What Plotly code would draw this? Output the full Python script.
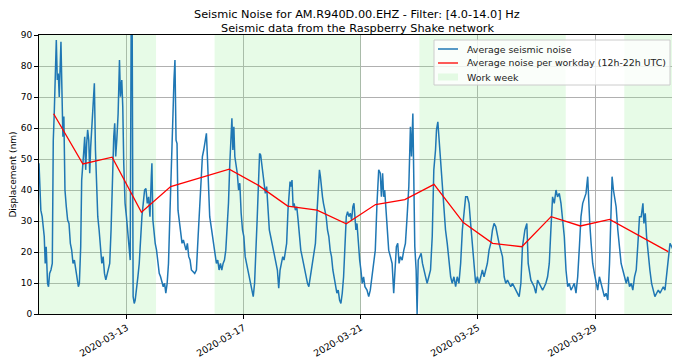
import pandas as pd
import plotly.graph_objects as go

START = pd.Timestamp("2020-03-10 00:00")

# Blue series: hours since START and averaged seismic noise (nm)
hours = [0, 0.7, 1.5, 2.6, 3.5, 4.3, 5.1, 5.9, 7.0, 7.8, 8.7, 9.8, 10.9, 11.7, 12.5, 13.3, 14.2, 15.0, 15.8, 16.6,
         17.4, 18.0, 18.8, 19.6, 20.4, 21.3, 22.4, 23.5, 24.6, 25.7, 26.8, 27.9, 29.0, 30.1, 31.2, 32.3, 33.1, 34.2,
         35.0, 35.8, 36.6, 37.5, 38.3, 39.1, 39.9, 40.8, 41.6, 42.4, 43.2, 44.3, 45.4, 46.3, 47.1, 48.2, 49.3, 50.4,
         51.5, 52.6, 53.7, 54.8, 55.9, 56.9, 58.0, 59.1, 60.2, 61.3, 62.1, 62.9, 63.8, 64.9, 66.0, 66.8, 67.9, 68.7,
         69.5, 70.6, 71.7, 72.9, 74.0, 74.8, 75.6, 76.4, 77.2, 78.1, 78.9, 80.0, 81.1, 82.2, 83.3, 84.4, 85.5, 86.6,
         87.7, 88.8, 89.9, 91.0, 92.1, 92.6, 93.4, 94.3, 95.3, 96.4, 97.5, 98.6, 99.7, 100.8, 101.9, 103.0, 104.0,
         105.1, 106.2, 107.3, 108.2, 109.0, 109.9, 110.7, 111.5, 112.4, 113.2, 114.0, 115.1, 116.2, 117.3, 118.4,
         119.5, 120.6, 121.7, 122.8, 123.9, 125.0,
         127.7, 129.1, 130.5, 131.8, 133.2, 134.0, 135.1, 136.2, 137.3, 138.1, 138.9, 140.0, 141.2, 142.2, 143.3,
         144.4, 145.5, 146.6, 147.7, 148.8, 149.9, 151.0, 152.1, 153.2, 154.3, 155.4, 156.5, 157.3, 158.2, 159.0,
         159.8, 160.6, 161.5, 162.6, 163.7, 164.7, 165.8, 166.9, 168.0, 169.1, 170.2, 171.3, 172.4, 173.5, 174.6,
         175.7, 176.8, 177.9, 179.0, 180.1, 180.9, 181.8, 182.6, 183.4, 184.5, 185.6, 186.7, 187.8, 188.9, 190.0,
         191.1, 192.2, 193.3, 194.4, 195.5, 196.6, 197.7, 198.8, 199.9, 201.0, 202.0, 203.1, 204.2, 205.1, 205.9,
         206.7, 207.5, 208.4, 209.2, 210.3, 211.4, 212.5, 213.6, 214.7, 215.8, 216.9, 218.0, 219.1, 220.2, 221.3,
         222.4, 223.4, 224.5, 225.6, 226.7, 227.8, 228.9, 230.0, 230.8, 231.7, 232.5, 233.3, 234.4, 235.5, 236.6,
         237.7, 238.8, 239.9, 241.0, 242.1, 243.2, 244.3, 245.4, 246.5, 247.6, 248.7, 249.8, 250.9, 252.0, 253.1,
         254.2, 255.3, 256.4, 257.4, 258.3, 259.1, 259.9, 260.8, 261.9, 263.0, 264.0, 265.1, 266.2, 267.3, 269.0,
         270.4, 271.7, 273.1, 274.5, 275.8, 277.2, 278.6, 279.9, 280.8, 281.8, 282.7, 283.5, 284.9, 286.0, 286.8,
         288.2, 289.6, 290.9, 292.0, 293.1, 294.2, 295.3, 296.4, 297.8, 299.2, 300.5, 301.9, 303.3, 304.6, 305.5,
         306.6, 307.4, 308.2, 309.3, 310.1, 311.0, 312.0, 313.4, 314.5, 315.6, 317.0, 318.3, 319.7, 321.1, 322.5,
         323.8, 325.2, 326.0, 327.1, 328.2, 329.3, 330.7, 332.1, 333.4, 334.8, 336.2, 337.6, 338.9, 340.3, 341.7,
         343.0, 344.4, 345.8, 347.2, 348.5, 349.9, 351.3, 352.7, 354.0, 355.4, 356.8, 358.1, 359.5, 360.9, 362.3,
         363.6, 365.0, 366.4, 367.7, 369.1, 370.5, 371.9, 373.2, 374.6, 376.0, 377.3, 378.7, 380.1, 381.5, 382.8,
         384.2, 385.6, 386.9, 388.3, 389.7, 391.1, 392.4, 393.8, 395.2,
         396.5, 398.5, 400.1, 401.2, 403.4, 406.1, 407.5, 408.9, 410.2, 411.6, 413.0, 414.4, 415.7, 417.1, 418.5,
         419.8, 421.2, 422.6, 424.0, 425.3, 426.7, 428.1, 429.4, 430.8, 432.2, 433.6, 434.9, 436.3, 437.7, 439.0,
         440.4, 441.8, 443.2, 444.5, 445.9, 447.3, 448.6, 450.0, 450.8, 451.7, 452.8, 454.1, 455.5, 456.9, 458.2,
         459.6, 461.0, 462.4, 463.7, 465.1, 466.5, 467.9, 469.2, 470.0, 471.1, 472.0, 473.3, 474.7, 476.1, 477.4,
         478.8, 480.2, 481.6, 482.9, 484.3, 485.7, 487.0, 488.4, 489.8, 491.2, 492.5, 493.9, 495.3, 496.1, 497.2,
         498.3, 499.6, 501.0, 502.4, 503.8, 505.1, 506.5, 507.9, 509.3, 510.6, 512.0, 513.4, 514.7, 516.1, 517.5,
         518.9, 520.2, 521.6]

noise_nm = [48.6, 41, 33.5, 31.4, 27, 25, 16.3, 21.7, 9.9, 8.8, 13.1, 14.2, 16.3, 56, 64.7, 80.9, 88.4, 75.5, 77.6, 70,
            78.7, 87.8, 72.3, 57.2, 63.7, 40, 34.6, 30.3, 29.2, 22.8, 20.6, 16.3, 17.4, 14.2, 12, 8.8, 9.9, 21.7,
            43.2, 46.5, 51.8, 57.2, 46.5, 55, 59.4, 56.1, 45.4, 54, 59.4, 65.8, 74.4, 52.9, 44.3, 31.4, 27.1, 20.6,
            16.3, 18.5, 13.1, 11, 13.1, 14.2, 16.3, 27.1, 46.5, 57.2, 61.5, 50.8, 56.1, 64.7, 81.9, 70.1, 75.5, 66.9,
            48.6, 35.7, 31.4, 26, 20.6, 17.4, 95, 95, 5.6, 3.4, 4.5, 7.7, 12, 16.3, 25, 31.4, 35.7, 40,
            40.5, 35.7, 37.8, 31.4, 44.3, 48.6, 30.3, 26, 22.8, 20.6, 16.3, 13.1, 12, 9.9, 8.8, 9.9, 6.7,
            9.9, 16.3, 31.4, 46.5, 50.8, 64.7, 75.5, 81.9, 56.1, 55, 33.5, 29.2, 27.1, 22.8, 23.9,
            21.7, 20.6, 22.8, 18.5, 17.4, 14.2,
            13.1, 14.2, 25, 35.7, 43.2, 50.8, 52.9, 56.1, 58.3, 50.8, 42.2, 31.4, 28.2, 25, 22.8,
            18.5, 16.3, 17.4, 14.2, 16.3, 14.2, 16.3, 17.4, 20.6, 27.1, 35.7, 48.6, 56.1, 63.1, 52.9,
            60.4, 50.8, 48.6, 45.4, 40, 42.2, 32.5, 27.1, 25, 18.5, 16.3, 14.2, 12, 9.9, 7.7,
            5.6, 9.9, 18.5, 31.4, 43.2, 51.8, 51.3, 48.6, 46.5, 43.2, 38.9, 41.1, 31.4, 27.1, 25,
            22.8, 20.6, 17.4, 16.3, 14.2, 8.3, 14.2, 16.3, 18.5, 17.4, 20.6, 22.8, 33.5, 40, 42.7,
            41.1, 43.2, 34.6, 35.7, 33.5, 34.6, 30.3, 25, 20.6, 18.5, 16.3, 14.2, 12, 9.9, 8.8,
            12, 14.2, 17.4, 19.6, 22.8, 31.4, 40, 46.5, 44.3, 40, 37.8, 35.7, 33.5, 31.4, 27.1,
            25, 20.6, 18.5, 14.2, 12, 8.8, 6.7, 7.7, 4.5, 3.4, 6.7, 12, 21.7, 31.4, 33,
            31.4, 32.5, 30.3, 34.6, 35.7, 31.4, 27.1, 29.2, 22.8, 17.4, 14.2, 9.9, 12, 8.8, 7.7,
            5.6, 7.7, 12, 16.3, 20.6, 35.7, 46.5, 45.4, 37.8, 45.4, 37.8, 40, 30.3, 25, 20.6,
            18.5, 16.3, 6.7, 16.3, 21.7, 22.8, 16.3, 18.5, 17.4, 20.6, 22.8, 31.4, 41.1, 60.4, 50.8,
            64.7, 46.5, 21.7, 14.2, 0, 17.4, 18.5, 19.6, 16.3, 14.2, 12, 9.9, 12, 14.2, 25,
            46.5, 52.9, 59.4, 62, 56.1, 48.6, 42.2, 34.6, 27.1, 22.8, 16.3, 12, 9.9, 12, 8.8,
            12, 9.9, 16.3, 27.1, 31.4, 37.8, 37.8, 35.7, 29.2, 22.8, 16.3, 9.9, 12, 9.9, 12,
            14.2, 12, 14.2, 16.3, 20.6, 22.8, 27.1, 29.2, 28.2, 25, 22.8, 20.6, 18.5, 12, 9.9,
            10.9, 9.9, 8.8, 9.9, 8.8, 7.7, 6.7, 5.6, 9.9,
            21.7, 27.1, 29.2, 16.3, 10.9, 8.8, 6.7, 10.9, 9.9, 8.8, 7.7, 8.8, 9.9, 12, 16.3,
            27.1, 37.8, 35.7, 40, 37.8, 38.9, 35.7, 31.4, 25, 14.2, 8.8, 9.9, 7.7, 8.8, 9.9,
            6.7, 12, 21.7, 31.4, 35.7, 37.8, 38.9, 44.3, 35.7, 29.2, 22.8, 16.3, 13.1, 9.9, 7.7,
            12, 9.9, 7.7, 5.6, 6.7, 4.5, 16.3, 31.4, 44.3, 40, 37.8, 34.6, 27.1, 21.7, 16.3,
            14.2, 12, 9.9, 12, 8.8, 9.9, 7.7, 12, 14.2, 22.8, 31.4, 31.4, 35.7, 29.2, 32.5,
            25, 18.5, 14.2, 9.9, 7.7, 5.6, 6.7, 7.7, 6.7, 7.7, 8.8, 7.7, 12, 16.3, 22.8,
            21.7, 20.6, 18.5]

# Red series: average noise per workday (12h-22h UTC), plotted at noon
workday_dates = ["2020-03-10", "2020-03-11", "2020-03-12", "2020-03-13", "2020-03-14", "2020-03-16",
                 "2020-03-17", "2020-03-18", "2020-03-19", "2020-03-20", "2020-03-21", "2020-03-22",
                 "2020-03-23", "2020-03-24", "2020-03-25", "2020-03-26", "2020-03-27", "2020-03-28",
                 "2020-03-29", "2020-03-31"]
workday_noise = [64.6, 48.4, 50.6, 32.8, 41.1, 46.7, 41.5, 34.8, 33.5, 29.1, 35.3, 36.9, 41.8, 29.5,
                 22.8, 21.7, 31.4, 28.4, 30.5, 20.1]

# Work week spans (Monday 00:00 to Saturday 00:00)
week_starts = ["2020-03-09", "2020-03-16", "2020-03-23", "2020-03-30"]
week_ends = ["2020-03-14", "2020-03-21", "2020-03-28", "2020-04-04"]

x_tick_labels = ["2020-03-13", "2020-03-17", "2020-03-21", "2020-03-25", "2020-03-29"]
y_ticks = [0, 10, 20, 30, 40, 50, 60, 70, 80, 90]

legend_labels = ["Average seismic noise", "Average noise per workday (12h-22h UTC)", "Work week"]

times = [START + pd.Timedelta(hours=h) for h in hours]
workday_times = [pd.Timestamp(d) + pd.Timedelta(hours=12) for d in workday_dates]

Y_MIN, Y_MAX = 0, 90
BLUE, RED, GREEN = "#1f77b4", "red", "rgba(144,238,144,0.22)"
FONT = "DejaVu Sans"

# page body has an 8px margin: figure is laid out so the plot box lands at 39..675 x 35..314 in the window
W, H = 672, 355
L, T = 31, 27
PW, PH = 636, 279
R, B = W - L - PW, H - T - PH


def px(fx):
    return (fx - L) / PW


def py(fy):
    return (T + PH - fy) / PH


# shading polygons
sx, sy = [], []
for s, e in zip(week_starts, week_ends):
    sx += [s, e, e, s, s, None]
    sy += [Y_MIN, Y_MIN, Y_MAX, Y_MAX, Y_MIN, None]

fig = go.Figure()
fig.add_trace(go.Scatter(x=sx, y=sy, mode="none", fill="toself", fillcolor=GREEN,
                         name=legend_labels[2], hoverinfo="skip", showlegend=False))
fig.add_trace(go.Scatter(x=times, y=noise_nm, mode="lines", line=dict(color=BLUE, width=1.5),
                         name=legend_labels[0], showlegend=False))
fig.add_trace(go.Scatter(x=workday_times, y=workday_noise, mode="lines", line=dict(color=RED, width=1.3),
                         name=legend_labels[1], showlegend=False))

# legend drawn as a box (matplotlib style)
shapes = [
    dict(type="rect", xref="paper", yref="paper", x0=px(426), x1=px(662), y0=py(77), y1=py(32),
         fillcolor="rgba(255,255,255,0.8)", line=dict(color="#cccccc", width=1), layer="above"),
    dict(type="line", xref="paper", yref="paper", x0=px(430), x1=px(450), y0=py(41), y1=py(41),
         line=dict(color=BLUE, width=1.5), layer="above"),
    dict(type="line", xref="paper", yref="paper", x0=px(430), x1=px(450), y0=py(55), y1=py(55),
         line=dict(color=RED, width=1.3), layer="above"),
    dict(type="rect", xref="paper", yref="paper", x0=px(430), x1=px(450), y0=py(72.5), y1=py(65.5),
         fillcolor=GREEN, line=dict(width=0), layer="above"),
]
annotations = [
    dict(text="Seismic Noise for AM.R940D.00.EHZ - Filter: [4.0-14.0] Hz", xref="paper", yref="paper",
         x=0.5, y=py(6.5), xanchor="center", yanchor="middle", showarrow=False,
         font=dict(family=FONT, size=11.3, color="black")),
    dict(text="Seismic data from the Raspberry Shake network", xref="paper", yref="paper",
         x=0.5, y=py(20), xanchor="center", yanchor="middle", showarrow=False,
         font=dict(family=FONT, size=11.3, color="black")),
]
for lbl, fy in zip(legend_labels, [41, 55, 69]):
    annotations.append(dict(text=lbl, xref="paper", yref="paper", x=px(457), y=py(fy),
                            xanchor="left", yanchor="middle", showarrow=False,
                            font=dict(family=FONT, size=9.4, color="#222")))

fig.update_layout(
    width=W, height=H,
    margin=dict(l=L, r=R, t=T, b=B, autoexpand=False),
    paper_bgcolor="white", plot_bgcolor="white",
    font=dict(family=FONT, size=9, color="black"),
    showlegend=False,
    shapes=shapes,
    annotations=annotations,
)

fig.update_xaxes(
    range=[times[0], times[-1]],
    tickmode="array", tickvals=[pd.Timestamp(t) for t in x_tick_labels], ticktext=x_tick_labels,
    tickangle=-30, ticks="outside", ticklen=4, tickcolor="black",
    showgrid=True, gridcolor="#b0b0b0", gridwidth=0.8,
    showline=True, linecolor="black", linewidth=1, mirror=True, zeroline=False,
    tickfont=dict(family=FONT, size=9.4, color="black"), automargin=False,
)
fig.update_yaxes(
    range=[Y_MIN, Y_MAX], tickmode="array", tickvals=y_ticks,
    ticks="outside", ticklen=4, tickcolor="black",
    showgrid=True, gridcolor="#b0b0b0", gridwidth=0.8,
    showline=True, linecolor="black", linewidth=1, mirror=True, zeroline=False,
    title=dict(text="Displacement (nm)", font=dict(family=FONT, size=9, color="black"), standoff=4),
    tickfont=dict(family=FONT, size=9, color="black"), automargin=False,
)

fig.write_html("out.html")
